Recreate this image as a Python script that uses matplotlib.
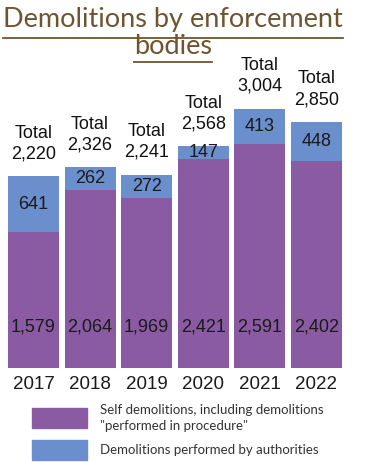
import matplotlib
matplotlib.use("Agg")
import matplotlib.pyplot as plt
from matplotlib.patches import Rectangle
from matplotlib.lines import Line2D

years = ["2017", "2018", "2019", "2020", "2021", "2022"]
self_demolitions = [1579, 2064, 1969, 2421, 2591, 2402]
by_authorities = [641, 262, 272, 147, 413, 448]
totals = [a + b for a, b in zip(self_demolitions, by_authorities)]

legend_labels = ['Self demolitions, including demolitions\n"performed in procedure"',
                 "Demolitions performed by authorities"]

purple = "#8a5ba3"
blue = "#6b8fcc"
title_color = "#6e5430"
num_font = ["Liberation Sans", "DejaVu Sans"]
txt_font = ["Lato", "DejaVu Sans"]

W, H = 370, 462
fig = plt.figure(figsize=(W / 100, H / 100), dpi=100)

def fx(px):
    return px / W

def fy(px):
    return 1 - px / H

# bar area
ax = fig.add_axes([fx(5.2), fy(368), fx(339.6), 302 / H])
x = range(len(years))
b1 = ax.bar(x, self_demolitions, width=0.9, color=purple)
b2 = ax.bar(x, by_authorities, width=0.9, bottom=self_demolitions, color=blue)
ax.set_xlim(-0.5, 5.5)
ax.set_ylim(0, 3500)
for s in ax.spines.values():
    s.set_visible(False)
ax.set_yticks([])
ax.set_xticks(list(x))
ax.set_xticklabels(years, fontsize=13.5, family=num_font, color="#1a1a1a")
ax.tick_params(axis="x", length=0, pad=6)

for i in x:
    ax.text(i, 475, f"{self_demolitions[i]:,}", ha="center", va="center",
            fontsize=13, family=num_font, color="#1a1a1a")
    ax.text(i, self_demolitions[i] + by_authorities[i] / 2, f"{by_authorities[i]:,}",
            ha="center", va="center", fontsize=13, family=num_font, color="#1a1a1a")
    ax.annotate(f"Total\n{totals[i]:,}", (i, totals[i]), xytext=(0, 10),
                textcoords="offset points", ha="center", va="bottom",
                fontsize=13, family=num_font, color="#111111", linespacing=1.3)

# title with underline
fig.canvas.draw()
r = fig.canvas.get_renderer()
for line, yc, ul in [("Demolitions by enforcement", 19, 38), ("bodies", 47, 62)]:
    t = fig.text(fx(173), fy(yc), line, ha="center", va="center",
                 fontsize=19.5, family=txt_font, color=title_color)
    bb = t.get_window_extent(renderer=r)
    fig.add_artist(Line2D([bb.x0 / W, bb.x1 / W], [fy(ul), fy(ul)],
                          color=title_color, lw=1.3, transform=fig.transFigure))

# legend
for (top, bot, col, lab, ty) in [(408, 428, purple, legend_labels[0], 418),
                                 (440, 460, blue, legend_labels[1], 450)]:
    fig.add_artist(Rectangle((fx(32), fy(bot)), fx(55), (bot - top) / H,
                             color=col, transform=fig.transFigure))
    fig.text(fx(100), fy(ty), lab, ha="left", va="center", fontsize=9.5,
             family=txt_font, color="#333333", linespacing=1.35)

fig.savefig("out.png", dpi=100)
